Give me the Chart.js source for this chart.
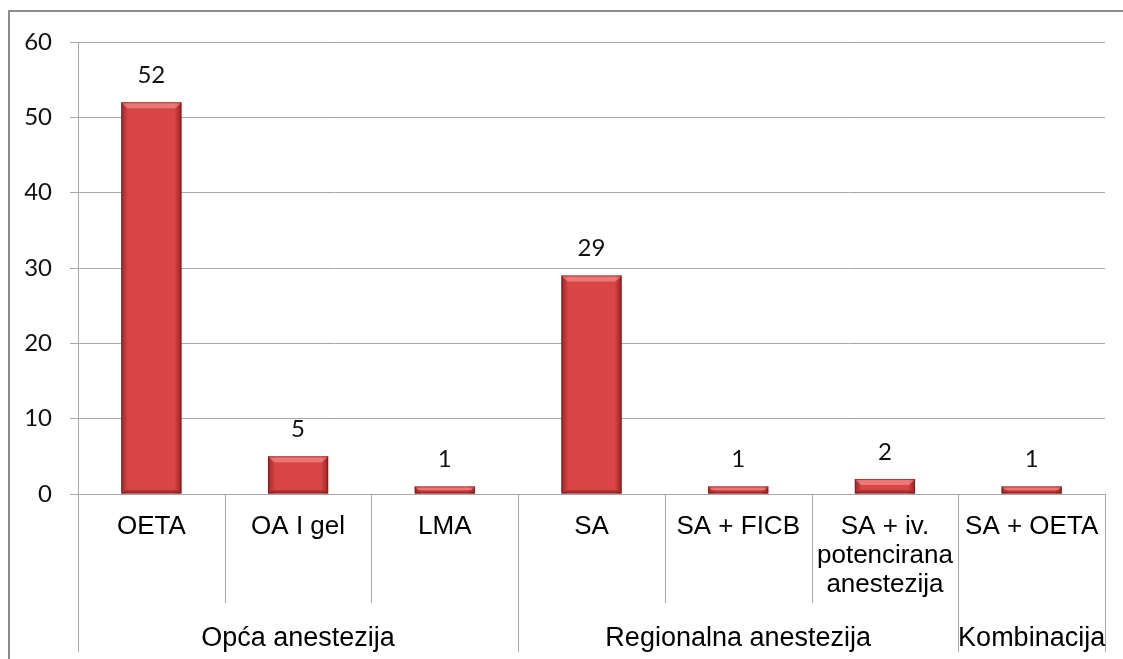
<!DOCTYPE html>
<html>
<head>
<meta charset="utf-8">
<script src="https://cdn.jsdelivr.net/npm/chart.js@4/dist/chart.umd.min.js"></script>
<style>
  html, body { margin: 0; padding: 0; background: #fff; overflow: hidden; }
  #wrap { position: relative; width: 1123px; height: 659px; }
  #frame {
    position: absolute; left: 8px; top: 10px; width: 1200px; height: 700px;
    border-top: 2px solid #8c8c8c; border-left: 2px solid #8c8c8c;
    pointer-events: none;
  }
  canvas { position: absolute; left: 0; top: 0; }
</style>
</head>
<body>
<div id="wrap">
  <canvas id="chart" width="1123" height="659"></canvas>
  <div id="frame"></div>
</div>
<script>
// ── data ────────────────────────────────────────
const categories = [
  'OETA',
  'OA I gel',
  'LMA',
  'SA',
  'SA + FICB',
  ['SA + iv.', 'potencirana', 'anestezija'],
  'SA + OETA',
];
const counts = [52, 5, 1, 29, 1, 2, 1];

const groupNames = ['Opća anestezija', 'Regionalna anestezija', 'Kombinacija'];
const groupSizes = [3, 3, 1];

const yTicks = [0, 10, 20, 30, 40, 50, 60];

const LINE = '#a8a8a8';
const TICK_FONT = 'Lato, "Open Sans", sans-serif';
const CAT_FONT = '"Liberation Sans", Arial, sans-serif';

/* ─────────────────────────────────────────────
 * bar bevel (drawn on top of the library's bars)
 * ───────────────────────────────────────────── */
const bevelPlugin = {
  id: 'bevel',
  afterDatasetsDraw(chart) {
    const ctx = chart.ctx;
    chart.getDatasetMeta(0).data.forEach(bar => {
      const { x, y, base, width } = bar.getProps(['x', 'y', 'base', 'width'], true);
      const l = x - width / 2, r = x + width / 2, h = base - y;
      const e = Math.min(6, h / 2);
      ctx.save();

      // left / right dark edges
      let g = ctx.createLinearGradient(l, 0, l + 7, 0);
      g.addColorStop(0, 'rgba(110,10,10,0.55)');
      g.addColorStop(1, 'rgba(110,10,10,0)');
      ctx.fillStyle = g;
      ctx.fillRect(l, y, 7, h);
      g = ctx.createLinearGradient(r, 0, r - 7, 0);
      g.addColorStop(0, 'rgba(110,10,10,0.6)');
      g.addColorStop(1, 'rgba(110,10,10,0)');
      ctx.fillStyle = g;
      ctx.fillRect(r - 7, y, 7, h);

      // top light bevel
      ctx.beginPath();
      ctx.moveTo(l, y);
      ctx.lineTo(r, y);
      ctx.lineTo(r - e, y + e);
      ctx.lineTo(l + e, y + e);
      ctx.closePath();
      ctx.fillStyle = 'rgba(255,160,160,0.55)';
      ctx.fill();

      // bottom shade
      ctx.beginPath();
      ctx.moveTo(l, base);
      ctx.lineTo(r, base);
      ctx.lineTo(r - e, base - e * 0.6);
      ctx.lineTo(l + e, base - e * 0.6);
      ctx.closePath();
      ctx.fillStyle = 'rgba(90,0,0,0.3)';
      ctx.fill();

      ctx.strokeStyle = 'rgba(120,20,20,0.6)';
      ctx.lineWidth = 1;
      ctx.strokeRect(l + 0.5, y + 0.5, width - 1, h - 1);
      ctx.restore();
    });
  },
};

/* ─────────────────────────────────────────────
 * value labels, category separators, group labels
 * ───────────────────────────────────────────── */
const decorPlugin = {
  id: 'decor',
  afterDraw(chart) {
    const ctx = chart.ctx;
    const xs = chart.scales.x;
    const area = chart.chartArea;

    // value labels
    ctx.save();
    ctx.font = '24px ' + TICK_FONT;
    ctx.fillStyle = '#111';
    ctx.textAlign = 'center';
    ctx.textBaseline = 'middle';
    chart.getDatasetMeta(0).data.forEach((bar, i) => {
      ctx.fillText(String(counts[i]), bar.x, bar.y - 27);
    });
    ctx.restore();

    // separators
    const edge = i => {
      if (i === 0) return area.left;
      if (i === categories.length) return area.right;
      return (xs.getPixelForValue(i - 1) + xs.getPixelForValue(i)) / 2;
    };
    const groupEdges = [0];
    groupSizes.forEach(n => groupEdges.push(groupEdges[groupEdges.length - 1] + n));

    ctx.save();
    ctx.strokeStyle = LINE;
    ctx.lineWidth = 1;
    for (let i = 0; i <= categories.length; i++) {
      const px = Math.round(edge(i)) + 0.5;
      const bottom = groupEdges.includes(i) ? 652 : 603;
      ctx.beginPath();
      ctx.moveTo(px, area.bottom);
      ctx.lineTo(px, bottom);
      ctx.stroke();
    }

    // group labels
    ctx.font = '27px ' + CAT_FONT;
    ctx.fillStyle = '#000';
    ctx.textAlign = 'center';
    ctx.textBaseline = 'alphabetic';
    groupNames.forEach((name, g) => {
      const cx = (edge(groupEdges[g]) + edge(groupEdges[g + 1])) / 2;
      ctx.fillText(name, cx, 646);
    });
    ctx.restore();
  },
};

new Chart(document.getElementById('chart').getContext('2d'), {
  type: 'bar',
  data: {
    labels: categories,
    datasets: [{
      data: counts,
      backgroundColor: '#d84646',
      barPercentage: 0.41,
      categoryPercentage: 1,
      borderSkipped: false,
    }],
  },
  options: {
    responsive: false,
    animation: false,
    events: [],
    layout: { padding: { top: 42, right: 18, bottom: 0, left: 0 } },
    plugins: { legend: { display: false }, tooltip: { enabled: false } },
    scales: {
      x: {
        grid: { display: false, drawTicks: false },
        border: { display: true, color: LINE, width: 1 },
        ticks: {
          color: '#000',
          font: { family: CAT_FONT, size: 26, lineHeight: 1.1 },
          padding: 19,
          maxRotation: 0,
          autoSkip: false,
        },
        afterFit: s => { s.height = 165; },
      },
      y: {
        min: 0,
        max: 60,
        afterBuildTicks: s => { s.ticks = yTicks.map(v => ({ value: v })); },
        grid: { color: LINE, lineWidth: 1, tickLength: 8 },
        border: { display: true, color: LINE, width: 1 },
        ticks: {
          color: '#111',
          font: { family: TICK_FONT, size: 24 },
          padding: 18,
        },
        afterFit: s => { s.width = 78; },
      },
    },
  },
  plugins: [bevelPlugin, decorPlugin],
});
</script>
</body>
</html>
